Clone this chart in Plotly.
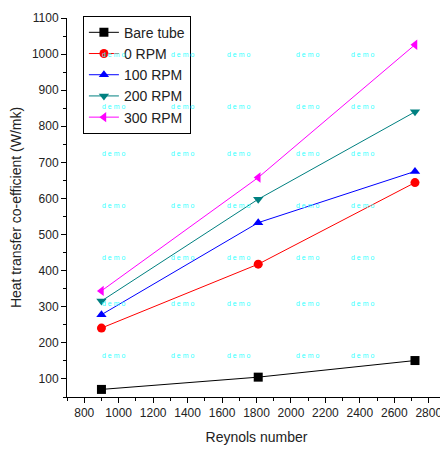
import plotly.graph_objects as go

# data
reynolds = [900, 1810, 2720]
bare_tube = [71, 105, 151]
rpm_0 = [241, 418, 644]
rpm_100 = [278, 533, 675]
rpm_200 = [316, 598, 840]
rpm_300 = [344, 658, 1026]

series = [
    ("Bare tube", bare_tube, "black", "square"),
    ("0 RPM", rpm_0, "red", "circle"),
    ("100 RPM", rpm_100, "blue", "triangle-up"),
    ("200 RPM", rpm_200, "#008080", "triangle-down"),
    ("300 RPM", rpm_300, "magenta", "triangle-left"),
]

fig = go.Figure()
for nom, vals, coul, symb in series:
    fig.add_trace(go.Scatter(
        x=reynolds, y=vals, name=nom, mode="lines+markers",
        line=dict(color=coul, width=1),
        marker=dict(symbol=symb, size=9, color=coul),
    ))

# watermark grid ("demo"), positions in page pixels
wm_x = [100, 169, 238, 307, 376]
wm_y = [49, 101, 153, 205, 257, 309, 361]
for yy in wm_y:
    for xx in wm_x:
        fig.add_annotation(
            x=(xx - 67) / 379, y=1 - (yy - 18) / 379, xref="paper", yref="paper",
            text="d e m o", showarrow=False,
            font=dict(size=7, color="#33FFFF", family="Arial, Liberation Sans"),
        )

axe = dict(
    showgrid=False, zeroline=False, showline=True, linecolor="black", linewidth=1,
    ticks="outside", ticklen=5, tickcolor="black", tickwidth=1,
    tickfont=dict(size=12, color="#222"),
    title_font=dict(size=14, color="#222"),
    automargin=False,
)

# the page body has an 8px margin, so the figure is 8px smaller
fig.update_layout(
    width=440, height=442,
    margin=dict(l=59, r=2, t=10, b=53),
    plot_bgcolor="white", paper_bgcolor="white",
    font=dict(family="Arial, Liberation Sans, sans-serif", color="#222"),
    showlegend=True,
    legend=dict(
        x=0.042, y=1.006, xanchor="left", yanchor="top",
        bordercolor="black", borderwidth=1, bgcolor="white",
        font=dict(size=14, color="#222"),
    ),
    xaxis=dict(
        axe, range=[700, 2900], tick0=800, dtick=200,
        minor=dict(ticks="outside", ticklen=3, dtick=100, tick0=700, tickcolor="black"),
        title=dict(text="Reynols number", standoff=12),
    ),
    yaxis=dict(
        axe, range=[50, 1100], tick0=100, dtick=100,
        minor=dict(ticks="outside", ticklen=3, dtick=50, tick0=50, tickcolor="black"),
        title=dict(text="Heat transfer co-efficient (W/mk)", standoff=6),
    ),
)

fig.write_html("out.html")
